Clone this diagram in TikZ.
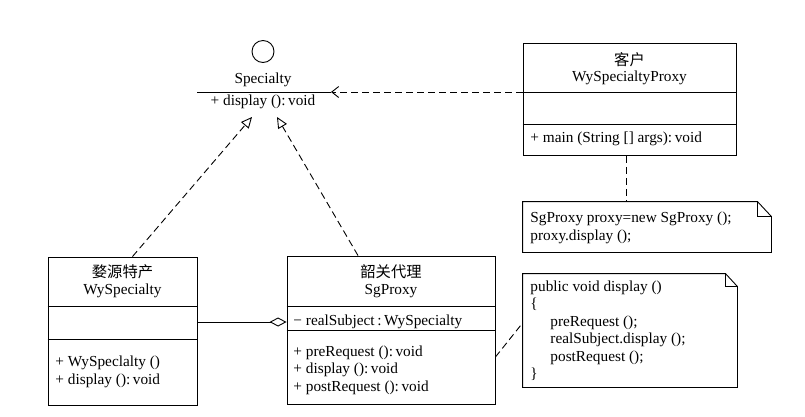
\documentclass[tikz,border=0pt]{standalone}
\usepackage{fontspec}
\setmainfont{Liberation Serif}
\newfontfamily\cjk{Noto Sans CJK SC}
\usetikzlibrary{arrows.meta}
\tikzset{
  classbox/.style={draw,inner sep=0pt},
  txt/.style={inner sep=0pt,font=\fontsize{15.3}{17.5}\selectfont},
  dep/.style={dash pattern=on 7pt off 4pt}
}
\begin{document}
\begin{tikzpicture}[x=1pt,y=-1pt,line width=0.9pt,>={Straight Barb[length=7pt,width=11pt]}]
\useasboundingbox (0,0) rectangle (805,416);
%Interface Specialty as a lollipop
    \node[draw,circle,minimum size=22pt,inner sep=0pt] (lollipop) at (263,51.5) {};
    \node[txt] (spec name) at (263,80) {Specialty};
    \coordinate (spec west) at (197,92);
    \coordinate (spec east) at (331,92);
    \draw (spec west) -- (spec east);
    \node[txt] (spec op) at (263,102) {+ display ():\,void};
    \coordinate (spec tip left) at (252,117);
    \coordinate (spec tip right) at (277,117);

%Client class
    \node[classbox,minimum width=213pt,minimum height=112pt] (client) at (629.5,99.5) {};
    \draw (client.west |- 0,92) -- (client.east |- 0,92);
    \draw (client.west |- 0,124) -- (client.east |- 0,124);
    \node[txt] (client cn) at (629.5,60) {\cjk 客户};
    \node[txt] (client name) at (629.5,78) {WySpecialtyProxy};
    \node[txt,anchor=west] (client op) at (530,139) {+ main (String [] args):\,void};
    \draw [dep,->](client.west |- spec east) -- (spec east);

%Note of the client
    \node[minimum width=248pt,minimum height=50pt,inner sep=0pt] (note1) at (647,227) {};
    \draw (note1.north west) -- ([xshift=-14pt]note1.north east) -- ([yshift=-15pt]note1.north east)
        -- (note1.south east) -- (note1.south west) -- cycle;
    \draw ([xshift=-14pt]note1.north east) -- ([xshift=-14pt,yshift=-15pt]note1.north east)
        -- ([yshift=-15pt]note1.north east);
    \node[txt,anchor=west,align=left] (note1 text) at (530,228)
        {SgProxy proxy=new SgProxy ();\\proxy.display ();};
    \draw [dep](client.south -| 626,0) -- (note1.north -| 626,0);

%Real subject class
    \node[classbox,minimum width=149pt,minimum height=148pt] (wy) at (122.5,331) {};
    \draw (wy.west |- 0,306) -- (wy.east |- 0,306);
    \draw (wy.west |- 0,339) -- (wy.east |- 0,339);
    \node[txt] (wy cn) at (122.5,272) {\cjk 婺源特产};
    \node[txt] (wy name) at (122.5,291) {WySpecialty};
    \node[txt,anchor=west,align=left] (wy ops) at (55,372) {+ WySpeclalty ()\\+ display ():\,void};

%Proxy class
    \node[classbox,minimum width=208pt,minimum height=148pt] (sg) at (391,330) {};
    \draw (sg.west |- 0,306) -- (sg.east |- 0,306);
    \draw (sg.west |- 0,330) -- (sg.east |- 0,330);
    \node[txt] (sg cn) at (391,272) {\cjk 韶关代理};
    \node[txt] (sg name) at (391,291) {SgProxy};
    \node[txt,anchor=west] (sg attr) at (293,322) {− realSubject\,:\,WySpecialty};
    \node[txt,anchor=west,align=left] (sg ops) at (293,370)
        {+ preRequest ():\,void\\+ display ():\,void\\+ postRequest ():\,void};

%Note of the proxy
    \node[minimum width=214pt,minimum height=113pt,inner sep=0pt] (note2) at (630,330.5) {};
    \draw (note2.north west) -- ([xshift=-12pt]note2.north east) -- ([yshift=-13pt]note2.north east)
        -- (note2.south east) -- (note2.south west) -- cycle;
    \draw ([xshift=-12pt]note2.north east) -- ([xshift=-12pt,yshift=-13pt]note2.north east)
        -- ([yshift=-13pt]note2.north east);
    \node[txt,anchor=north west,align=left] (note2 text) at (530,280)
        {public void display ()\\\{\\\hspace{20pt}preRequest ();\\\hspace{20pt}realSubject.display ();\\
         \hspace{20pt}postRequest ();\\\}};
    \draw [dep](sg.east |- 0,357) -- (note2.west |- 0,323);

%Realization and aggregation
    \draw [dep,-{Triangle[open,length=11pt,width=10pt]}]([xshift=10pt]wy.north) -- (spec tip left);
    \draw [dep,-{Triangle[open,length=11pt,width=10pt]}]([xshift=-33pt]sg.north) -- (spec tip right);
    \draw [{Diamond[open,length=17pt,width=9pt]}-](sg.west |- 0,322) -- (wy.east |- 0,322);
\end{tikzpicture}
\end{document}
